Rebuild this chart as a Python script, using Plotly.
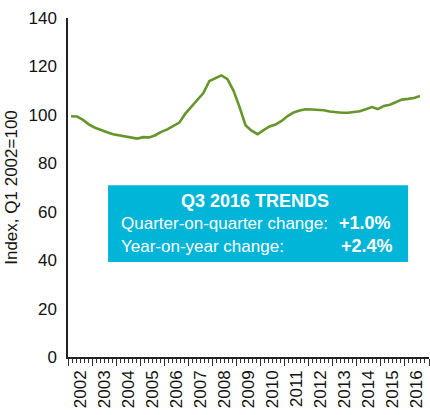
import plotly.graph_objects as go

# ---- data ----
years = [str(y) for y in range(2002, 2017)]
quarters = [f"{y} Q{q}" for y in range(2002, 2017) for q in range(1, 5)][:59]
index_values = [
    99.4, 99.3, 97.9, 96.0, 94.7, 93.6, 92.8, 92.0,
    91.6, 91.0, 90.5, 90.2, 90.8, 90.7, 91.6, 93.0,
    94.0, 95.3, 96.8, 100.5, 103.4, 106.5, 109.0, 114.0,
    115.2, 116.3, 114.7, 110.0, 103.3, 95.7, 93.5, 92.0,
    93.7, 95.2, 96.0, 97.5, 99.5, 101.0, 101.8, 102.3,
    102.2, 102.1, 101.9, 101.4, 101.1, 100.9, 100.9, 101.2,
    101.5, 102.3, 103.2, 102.4, 103.7, 104.2, 105.3, 106.3,
    106.6, 107.0, 107.8,
]
y_ticks = [0, 20, 40, 60, 80, 100, 120, 140]
box_title = "Q3 2016 TRENDS"
box_rows = [("Quarter-on-quarter change:", "+1.0%"), ("Year-on-year change:", "+2.4%")]

n_slots = len(years) * 4
x_idx = list(range(len(index_values)))
year_bounds = [-0.5 + 4 * k for k in range(len(years) + 1)]
year_centers = [1.5 + 4 * k for k in range(len(years))]

FONT = "Liberation Sans, Arial, Helvetica, sans-serif"

fig = go.Figure()
fig.add_trace(go.Scatter(
    x=x_idx, y=index_values, mode="lines",
    line=dict(color="#66962A", width=2.6),
    hovertext=quarters, showlegend=False,
))
# invisible trace to activate label axis
fig.add_trace(go.Scatter(x=[0], y=[0], xaxis="x2", mode="markers",
                         marker=dict(opacity=0), showlegend=False, hoverinfo="skip"))

rng = [-0.5, n_slots - 0.5]
fig.update_layout(
    width=430, height=415,
    margin=dict(l=68, r=1, t=18, b=58),
    paper_bgcolor="white", plot_bgcolor="white",
    font=dict(family=FONT, color="#111111", size=17),
    xaxis=dict(
        range=rng, showgrid=False, zeroline=False,
        showline=True, linecolor="#222222", linewidth=1.5,
        tickmode="array", tickvals=year_bounds, showticklabels=False,
        ticks="outside", ticklen=7, tickwidth=1.2, tickcolor="#333333",
        minor=dict(tickmode="linear", tick0=-0.5, dtick=4 / 6, ticks="outside",
                   ticklen=4, tickwidth=1, tickcolor="#333333", showgrid=False),
    ),
    xaxis2=dict(
        range=rng, overlaying="x", anchor="y", side="bottom",
        showgrid=False, zeroline=False, showline=False,
        tickmode="array", tickvals=year_centers, ticktext=years,
        tickangle=-90, ticks="", ticklabelstandoff=9,
        tickfont=dict(size=17, family=FONT, color="#111111"),
    ),
    yaxis=dict(
        range=[0, 140], showgrid=False, zeroline=False,
        showline=True, linecolor="#222222", linewidth=1.5,
        tickmode="array", tickvals=y_ticks, ticks="",
        ticklabelstandoff=6,
        tickfont=dict(size=17, family=FONT, color="#111111"),
        title=dict(text="Index, Q1 2002=100", standoff=7,
                   font=dict(size=17, family=FONT, color="#111111")),
    ),
)

# info box
fig.add_shape(type="rect", xref="paper", yref="paper",
              x0=0.111, x1=0.942, y0=0.280, y1=0.507,
              fillcolor="#00B5D8", line=dict(width=0), layer="above")
fig.add_annotation(xref="paper", yref="paper", x=0.518, y=0.460,
                   text=f"<b>{box_title}</b>", showarrow=False,
                   xanchor="center", yanchor="middle",
                   font=dict(size=18, color="white", family=FONT))
row_y = [0.395, 0.327]
val_x = [0.900, 0.906]
for (label, val), yy, vx in zip(box_rows, row_y, val_x):
    fig.add_annotation(xref="paper", yref="paper", x=0.140, y=yy,
                       text=label, showarrow=False, xanchor="left", yanchor="middle",
                       font=dict(size=17, color="white", family=FONT))
    fig.add_annotation(xref="paper", yref="paper", x=vx, y=yy,
                       text=f"<b>{val}</b>", showarrow=False, xanchor="right", yanchor="middle",
                       font=dict(size=18, color="white", family=FONT))

fig.write_html(
    "out.html",
    config={"displayModeBar": False},
    post_script="document.body.style.margin='0';document.body.style.overflow='hidden';"
                "document.documentElement.style.overflow='hidden';",
)
